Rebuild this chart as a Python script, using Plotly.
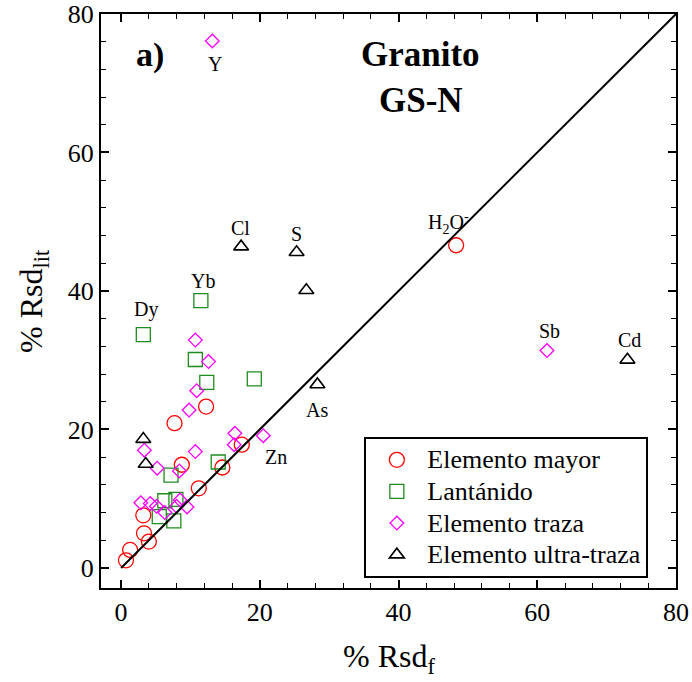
import plotly.graph_objects as go

FONT = "Liberation Serif"

# ---- data (% Rsd_f , % Rsd_lit) ----
mayor_x = [48.3, 12.25, 7.7, 8.75, 17.4, 14.6, 11.2, 3.2, 3.3, 4.0, 1.3, 0.7]
mayor_y = [46.6, 23.3, 20.9, 14.9, 17.8, 14.5, 11.5, 7.6, 5.0, 3.8, 2.6, 1.1]

lant_x = [3.2, 11.5, 10.7, 12.35, 19.2, 14.0, 7.2, 6.3, 7.9, 5.5, 7.6]
lant_y = [33.7, 38.6, 30.1, 26.8, 27.3, 15.3, 13.4, 9.7, 9.9, 7.4, 6.8]

traza_x = [13.15, 61.4, 10.7, 12.6, 10.9, 9.8, 16.4, 20.5, 16.3, 10.7, 3.35, 5.2, 8.4,
           2.84, 4.2, 5.1, 6.3, 8.5, 9.5, 8.0]
traza_y = [76.1, 31.4, 32.9, 29.8, 25.6, 22.8, 19.45, 19.1, 17.8, 16.8, 17.0, 14.4, 14.0,
           9.4, 9.3, 8.9, 8.0, 9.8, 8.8, 8.9]

ultra_x = [17.3, 25.3, 26.7, 28.3, 73.0, 3.2, 3.55]
ultra_y = [46.4, 45.6, 40.1, 26.5, 30.05, 18.6, 15.0]

diag = [0, 80]

series_names = ["Elemento mayor", "Lantánido", "Elemento traza", "Elemento ultra-traza"]

# labels: (text, series, index)
labels = [
    ("Y", "traza", 0), ("Dy", "lant", 0), ("Yb", "lant", 1), ("Cl", "ultra", 0),
    ("S", "ultra", 1), ("As", "ultra", 3), ("Zn", "traza", 7),
    ("H<sub>2</sub>O<sup>-</sup>", "mayor", 0), ("Sb", "traza", 1), ("Cd", "ultra", 4),
]
# pixel offsets for label placement (style)
label_shift = {
    "Y": (3, -23), "Dy": (3, 25), "Yb": (2, 20), "Cl": (-1, 19), "S": (0, 18),
    "As": (0, -26), "Zn": (13, -21), "H<sub>2</sub>O<sup>-</sup>": (-8, 22),
    "Sb": (3, 20), "Cd": (2, 20),
}

series = {
    "mayor": (mayor_x, mayor_y),
    "lant": (lant_x, lant_y),
    "traza": (traza_x, traza_y),
    "ultra": (ultra_x, ultra_y),
}


def legname(s):
    return '<span style="font-size:26px">' + s + '</span>'


fig = go.Figure()
fig.add_trace(go.Scatter(x=mayor_x, y=mayor_y, mode="markers", name=legname(series_names[0]),
                         marker=dict(symbol="circle-open", size=15, color="#FF0000",
                                     line=dict(width=1.3, color="#FF0000"))))
fig.add_trace(go.Scatter(x=lant_x, y=lant_y, mode="markers", name=legname(series_names[1]),
                         marker=dict(symbol="square-open", size=14, color="#1E8C1E",
                                     line=dict(width=1.3, color="#1E8C1E"))))
fig.add_trace(go.Scatter(x=traza_x, y=traza_y, mode="markers", name=legname(series_names[2]),
                         marker=dict(symbol="diamond-open", size=10.5, color="#FF00FF",
                                     line=dict(width=1.3, color="#FF00FF"))))
fig.add_trace(go.Scatter(x=ultra_x, y=ultra_y, mode="markers", name=legname(series_names[3]),
                         marker=dict(symbol="triangle-up-open", size=13, color="#000000",
                                     line=dict(width=1.6, color="#000000"))))
fig.add_trace(go.Scatter(x=diag, y=diag, mode="lines", showlegend=False,
                         line=dict(color="black", width=2), hoverinfo="skip"))

annotations = []
for text, s, i in labels:
    xs, ys = series[s]
    dx, dy = label_shift[text]
    annotations.append(dict(x=xs[i], y=ys[i], xref="x", yref="y", text=text,
                            showarrow=False, xshift=dx, yshift=dy,
                            xanchor="center", yanchor="middle",
                            font=dict(family=FONT, size=20, color="black")))

annotations += [
    dict(x=0.5565, y=0.9286, xref="paper", yref="paper", text="<b>Granito</b>",
         showarrow=False, xanchor="center", yanchor="middle",
         font=dict(family=FONT, size=35, color="black")),
    dict(x=0.5565, y=0.850, xref="paper", yref="paper", text="<b>GS-N</b>",
         showarrow=False, xanchor="center", yanchor="middle",
         font=dict(family=FONT, size=35, color="black")),
    dict(x=0.0852, y=0.9286, xref="paper", yref="paper", text="<b>a)</b>",
         showarrow=False, xanchor="center", yanchor="middle",
         font=dict(family=FONT, size=34, color="black")),
    dict(x=0.5, y=0, xref="paper", yref="paper", text="% Rsd<sub>f</sub>",
         showarrow=False, yshift=-70, xanchor="center", yanchor="middle",
         font=dict(family=FONT, size=32, color="black")),
    dict(x=0, y=0.5, xref="paper", yref="paper", text="% Rsd<sub>lit</sub>",
         showarrow=False, xshift=-68, textangle=-90, xanchor="center", yanchor="middle",
         font=dict(family=FONT, size=32, color="black")),
]

axis_common = dict(
    range=[-2.9, 80], showgrid=False, zeroline=False, showline=True, linewidth=2,
    linecolor="black", mirror="ticks", ticks="inside", ticklen=8, tickwidth=1.5,
    tickcolor="black", dtick=20, tick0=0, automargin=False,
    tickfont=dict(family=FONT, size=26, color="black"),
    minor=dict(ticks="inside", ticklen=5, tickwidth=1.2, dtick=4, tickcolor="black"),
)

fig.update_layout(
    width=692, height=682,
    margin=dict(l=101, r=16, t=14, b=94, autoexpand=False),
    paper_bgcolor="white", plot_bgcolor="white",
    xaxis=dict(**axis_common),
    yaxis=dict(**axis_common),
    annotations=annotations,
    legend=dict(x=0.458, y=0.263, xanchor="left", yanchor="top",
                bordercolor="black", borderwidth=2, bgcolor="white",
                font=dict(family=FONT, size=22, color="black"),
                itemwidth=51, tracegroupgap=0),
    showlegend=True,
)

fig.write_html("out.html")
